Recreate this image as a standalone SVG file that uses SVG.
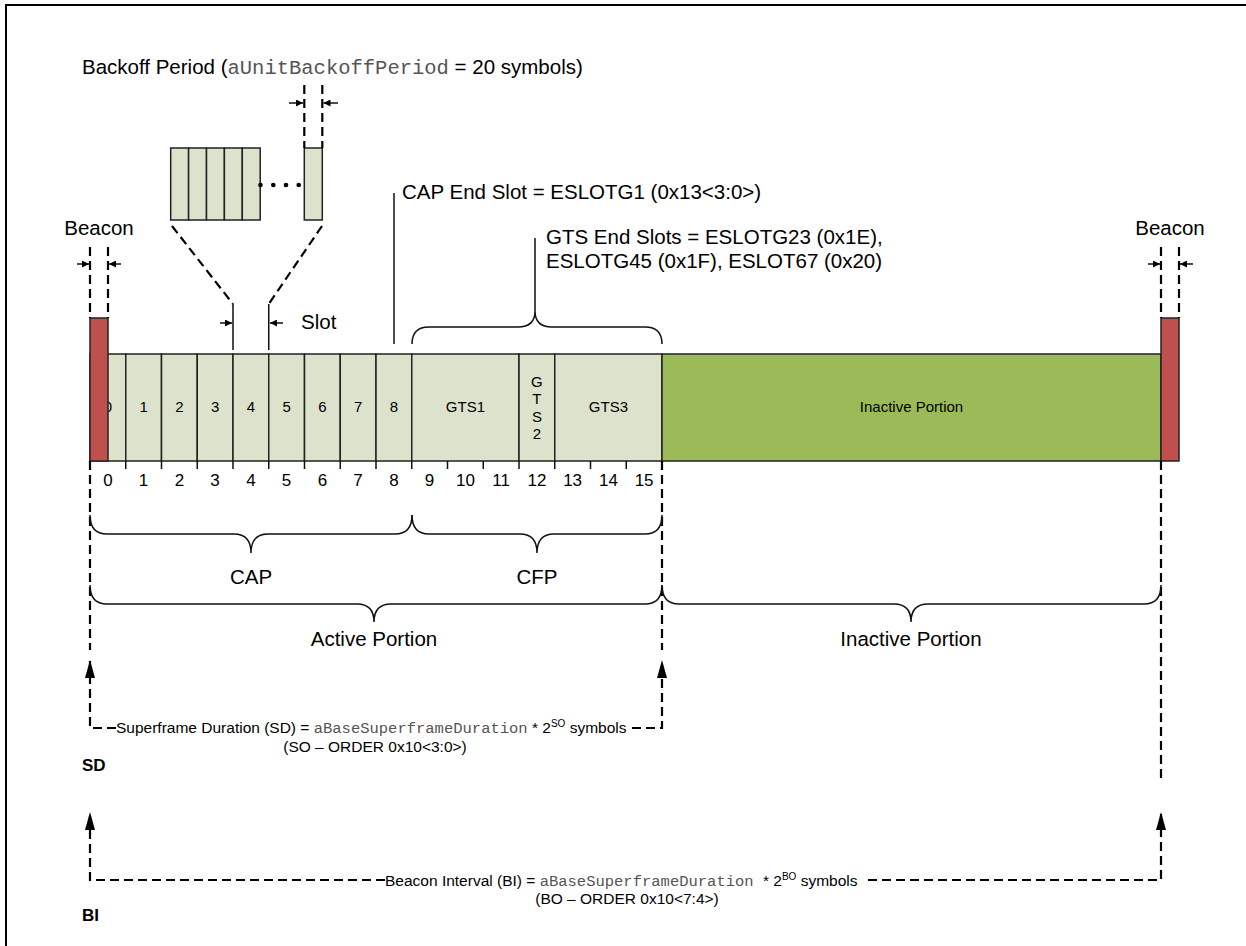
<svg xmlns="http://www.w3.org/2000/svg" width="1246" height="946" viewBox="0 0 1246 946">
<style>
.t{font-family:"Liberation Sans",Arial,sans-serif;fill:#000}
.lbl{font-size:20.5px}
.cell{font-size:15px;text-anchor:middle}
.num{font-size:17px;text-anchor:middle}
.sm{font-size:15.5px}
.mid{text-anchor:middle}
.b{font-weight:bold;font-size:17px}
.mono{font-family:"Liberation Mono","Courier New",monospace;fill:#555}
.sup{font-size:10px}
.slot{fill:#DDE2CC;stroke:#222;stroke-width:1.5}
.inact{fill:#9BBB59;stroke:#222;stroke-width:1.5}
.beacon{fill:#C0504D;stroke:#222;stroke-width:1.5}
.solid{fill:none;stroke:#111;stroke-width:1.5}
.dash{fill:none;stroke:#000;stroke-width:2.2;stroke-dasharray:9 5}
</style>
<defs>
<marker id="sa" viewBox="0 0 8 8" refX="8" refY="4" markerWidth="7" markerHeight="7" orient="auto" markerUnits="userSpaceOnUse"><path d="M0,0L8,4L0,8z" fill="#000"/></marker>
<marker id="ua" viewBox="0 0 18 10" refX="18" refY="5" markerWidth="18" markerHeight="10" orient="auto" markerUnits="userSpaceOnUse"><path d="M0,0L18,5L0,10z" fill="#000"/></marker>
</defs>
<rect width="1246" height="946" fill="#fff"/>
<path d="M6,946V5H1246" fill="none" stroke="#000" stroke-width="2"/>

<g id="backoff-label">
<text class="t lbl" x="82" y="74">Backoff Period (<tspan class="mono">aUnitBackoffPeriod</tspan> = 20 symbols)</text>
</g>

<g id="backoff-periods">
<rect class="slot" x="170.7" y="148" width="17.9" height="72"/>
<rect class="slot" x="188.6" y="148" width="17.9" height="72"/>
<rect class="slot" x="206.5" y="148" width="17.9" height="72"/>
<rect class="slot" x="224.4" y="148" width="17.9" height="72"/>
<rect class="slot" x="242.3" y="148" width="17.9" height="72"/>
<rect class="slot" x="304.3" y="148" width="18" height="72"/>
<circle cx="260.5" cy="185" r="2.3"/>
<circle cx="273.3" cy="185" r="2.3"/>
<circle cx="286" cy="185" r="2.3"/>
<circle cx="298.7" cy="185" r="2.3"/>
</g>

<g id="slots">
<g id="slot0"><rect class="slot" x="90" y="354" width="35.75" height="107"/><text class="t cell" x="107.9" y="412">0</text></g>
<g id="slot1"><rect class="slot" x="125.75" y="354" width="35.75" height="107"/><text class="t cell" x="143.6" y="412">1</text></g>
<g id="slot2"><rect class="slot" x="161.5" y="354" width="35.75" height="107"/><text class="t cell" x="179.4" y="412">2</text></g>
<g id="slot3"><rect class="slot" x="197.25" y="354" width="35.75" height="107"/><text class="t cell" x="215.1" y="412">3</text></g>
<g id="slot4"><rect class="slot" x="233" y="354" width="35.75" height="107"/><text class="t cell" x="250.9" y="412">4</text></g>
<g id="slot5"><rect class="slot" x="268.75" y="354" width="35.75" height="107"/><text class="t cell" x="286.6" y="412">5</text></g>
<g id="slot6"><rect class="slot" x="304.5" y="354" width="35.75" height="107"/><text class="t cell" x="322.4" y="412">6</text></g>
<g id="slot7"><rect class="slot" x="340.25" y="354" width="35.75" height="107"/><text class="t cell" x="358.1" y="412">7</text></g>
<g id="slot8"><rect class="slot" x="376" y="354" width="35.75" height="107"/><text class="t cell" x="393.9" y="412">8</text></g>
<g id="gts1"><rect class="slot" x="411.75" y="354" width="107.25" height="107"/><text class="t cell" x="465.4" y="412">GTS1</text></g>
<g id="gts2"><rect class="slot" x="519" y="354" width="35.75" height="107"/>
<text class="t cell" x="536.9" y="386.6">G</text><text class="t cell" x="536.9" y="404.1">T</text><text class="t cell" x="536.9" y="421.6">S</text><text class="t cell" x="536.9" y="439.1">2</text></g>
<g id="gts3"><rect class="slot" x="554.75" y="354" width="107.25" height="107"/><text class="t cell" x="608.4" y="412">GTS3</text></g>
</g>

<g id="inactive-bar"><rect class="inact" x="662" y="354" width="499" height="107"/><text class="t cell" x="911.5" y="412">Inactive Portion</text></g>

<g id="beacon-left"><rect class="beacon" x="90" y="318" width="18" height="143"/><text class="t lbl mid" x="99" y="235">Beacon</text></g>
<g id="beacon-right"><rect class="beacon" x="1161" y="318" width="18" height="143"/><text class="t lbl mid" x="1170" y="235">Beacon</text></g>

<g id="slot-numbers">
<path class="solid" d="M125.75,461v8M161.5,461v8M197.25,461v8M233,461v8M268.75,461v8M304.5,461v8M340.25,461v8M376,461v8M411.75,461v8M447.5,461v8M483.25,461v8M519,461v8M554.75,461v8M590.5,461v8M626.25,461v8"/>
<text class="t num" x="107.9" y="486">0</text>
<text class="t num" x="143.6" y="486">1</text>
<text class="t num" x="179.4" y="486">2</text>
<text class="t num" x="215.1" y="486">3</text>
<text class="t num" x="250.9" y="486">4</text>
<text class="t num" x="286.6" y="486">5</text>
<text class="t num" x="322.4" y="486">6</text>
<text class="t num" x="358.1" y="486">7</text>
<text class="t num" x="393.9" y="486">8</text>
<text class="t num" x="429.6" y="486">9</text>
<text class="t num" x="465.4" y="486">10</text>
<text class="t num" x="501.1" y="486">11</text>
<text class="t num" x="536.9" y="486">12</text>
<text class="t num" x="572.6" y="486">13</text>
<text class="t num" x="608.4" y="486">14</text>
<text class="t num" x="644.1" y="486">15</text>
</g>

<g id="labels">
<text class="t lbl" x="301" y="329">Slot</text>
<text class="t lbl" x="402" y="199">CAP End Slot = ESLOTG1 (0x13&lt;3:0&gt;)</text>
<text class="t lbl" x="546" y="244">GTS End Slots = ESLOTG23 (0x1E),</text>
<text class="t lbl" x="546" y="268">ESLOTG45 (0x1F), ESLOT67 (0x20)</text>
<text class="t lbl mid" x="251" y="584">CAP</text>
<text class="t lbl mid" x="537" y="584">CFP</text>
<text class="t lbl mid" x="374" y="646">Active Portion</text>
<text class="t lbl mid" x="911" y="646">Inactive Portion</text>
<text class="t sm" x="116" y="733">Superframe Duration (SD) = <tspan class="mono">aBaseSuperframeDuration</tspan> * 2<tspan class="sup" dy="-6">SO</tspan><tspan dy="6"> symbols</tspan></text>
<text class="t sm mid" x="375" y="752">(SO – ORDER 0x10&lt;3:0&gt;)</text>
<text class="t b" x="82" y="771">SD</text>
<text class="t sm" x="385" y="885.5">Beacon Interval (BI) = <tspan class="mono">aBaseSuperframeDuration </tspan>* 2<tspan class="sup" dy="-6">BO</tspan><tspan dy="6"> symbols</tspan></text>
<text class="t sm mid" x="627" y="904">(BO – ORDER 0x10&lt;7:4&gt;)</text>
<text class="t b" x="82" y="921">BI</text>
</g>

<g id="connectors">
<path class="dash" d="M304.3,85V148M322.3,85V148"/>
<line class="solid" x1="289" y1="103" x2="303" y2="103" marker-end="url(#sa)"/>
<line class="solid" x1="338" y1="103" x2="323.5" y2="103" marker-end="url(#sa)"/>
<path class="dash" d="M172,226L233,304M322,226L268.75,304"/>
<path class="solid" d="M233,304V350M268.75,304V350"/>
<line class="solid" x1="220" y1="323" x2="232" y2="323" marker-end="url(#sa)"/>
<line class="solid" x1="283" y1="323" x2="270" y2="323" marker-end="url(#sa)"/>
<path class="dash" d="M90,247V318M108,247V318M1161,247V318M1179,247V318"/>
<line class="solid" x1="77" y1="264" x2="89" y2="264" marker-end="url(#sa)"/>
<line class="solid" x1="121" y1="264" x2="109" y2="264" marker-end="url(#sa)"/>
<line class="solid" x1="1148" y1="264" x2="1160" y2="264" marker-end="url(#sa)"/>
<line class="solid" x1="1193" y1="264" x2="1180" y2="264" marker-end="url(#sa)"/>
<path class="solid" d="M394,193V344"/>
<path class="solid" d="M412,344Q412,327 429,327L518,327Q535,327 535,311V238M535,311Q535,327 552,327L645,327Q662,327 662,344"/>
<path class="dash" d="M90,461V650M662,461V650M1161,461V782"/>
<path class="solid" d="M90,515Q90,534 107,534L234,534Q251,534 251,553Q251,534 268,534L395,534Q412,534 412,515"/>
<path class="solid" d="M412,515Q412,534 429,534L520,534Q537,534 537,553Q537,534 554,534L645,534Q662,534 662,515"/>
<path class="solid" d="M90,585Q90,604 107,604L357,604Q374,604 374,622Q374,604 391,604L645,604Q662,604 662,585"/>
<path class="solid" d="M662,585Q662,604 679,604L894,604Q911,604 911,622Q911,604 928,604L1144,604Q1161,604 1161,585"/>
<path class="dash" d="M116,728H90V660" marker-end="url(#ua)"/>
<path class="dash" d="M632,728H662V660" marker-end="url(#ua)"/>
<path class="dash" d="M385,880H90V812" marker-end="url(#ua)"/>
<path class="dash" d="M868,880H1161V812" marker-end="url(#ua)"/>
</g>
</svg>
